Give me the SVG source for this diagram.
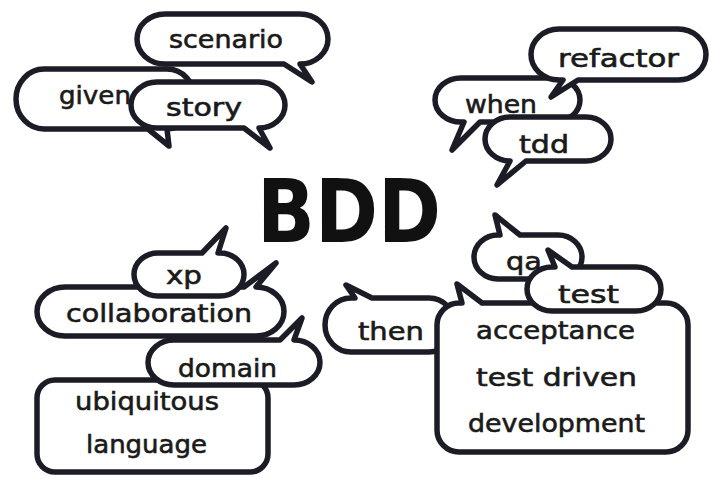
<svg xmlns="http://www.w3.org/2000/svg" width="712" height="479" viewBox="0 0 712 479">
<style>
.b{fill:#fff;stroke:#1c1c26;stroke-width:5.5;stroke-linejoin:round}
.t{font-family:"DejaVu Sans",sans-serif;font-size:25px;fill:#1a1a1a;stroke:#1a1a1a;stroke-width:0.6}
.big{font-family:"DejaVu Sans",sans-serif;font-weight:bold;font-size:88px;fill:#111}
</style>
<rect width="712" height="479" fill="#fff"/>
<g id="connectors"/>
<g id="bdd"><text class="big" x="257" y="242" textLength="184" lengthAdjust="spacingAndGlyphs">BDD</text></g>

<g id="scenario"><path class="b" d="M165,14 H300 A28 25 0 0 1 300,64 L312,82 L284,64 H165 A28 25 0 0 1 165,14 Z"/>
<text class="t" x="169" y="48" textLength="114" lengthAdjust="spacingAndGlyphs">scenario</text></g>
<g id="given"><path class="b" d="M44,69 H167 A28 30 0 0 1 167,129 L169,146 L148,129 H44 A28 30 0 0 1 44,69 Z"/>
<text class="t" x="59" y="104" textLength="72" lengthAdjust="spacingAndGlyphs">given</text></g>
<g id="story"><path class="b" d="M157,82 H259 A26 23 0 0 1 259,128 L270,148 L244,128 H157 A26 23 0 0 1 157,82 Z"/>
<text class="t" x="166" y="116" textLength="76" lengthAdjust="spacingAndGlyphs">story</text></g>

<g id="when"><path class="b" d="M461,78 H554 A26 22 0 0 1 554,122 H480 L452,150 L464,122 H461 A26 22 0 0 1 461,78 Z"/>
<text class="t" x="465" y="113" textLength="72" lengthAdjust="spacingAndGlyphs">when</text></g>
<g id="refactor"><path class="b" d="M559,29 H678 A28 25.5 0 0 1 678,80 H578 L551,97 L563,80 H559 A28 25.5 0 0 1 559,29 Z"/>
<text class="t" x="558" y="67" textLength="121" lengthAdjust="spacingAndGlyphs">refactor</text></g>
<g id="tdd"><path class="b" d="M510,117 H586 A25 22 0 0 1 586,161 H526 L497,185 L510,161 A25 22 0 0 1 510,117 Z"/>
<text class="t" x="519" y="153" textLength="50" lengthAdjust="spacingAndGlyphs">tdd</text></g>

<g id="collaboration"><path class="b" d="M65,287 H244 L276,263 L256,287 A28 24.5 0 0 1 256,336 H65 A28 24.5 0 0 1 65,287 Z"/>
<text class="t" x="66" y="322" textLength="186" lengthAdjust="spacingAndGlyphs">collaboration</text></g>
<g id="xp"><path class="b" d="M158,253 H202 L226,228 L218,253 H220 A24 21.5 0 0 1 220,296 H158 A24 21.5 0 0 1 158,253 Z"/>
<text class="t" x="166" y="284" textLength="36" lengthAdjust="spacingAndGlyphs">xp</text></g>
<g id="ubiquitous-language"><rect class="b" x="37" y="380" width="231" height="92" rx="18"/>
<text class="t" x="75" y="410" textLength="144" lengthAdjust="spacingAndGlyphs">ubiquitous</text>
<text class="t" x="86" y="453" textLength="121" lengthAdjust="spacingAndGlyphs">language</text></g>
<g id="domain"><path class="b" d="M174,340 H280 L302,318 L294,340 A26 22.5 0 0 1 294,385 H174 A26 22.5 0 0 1 174,340 Z"/>
<text class="t" x="178" y="377" textLength="99" lengthAdjust="spacingAndGlyphs">domain</text></g>

<g id="then"><path class="b" d="M351,298 H355 L346,285 L372,298 H429 A26 27 0 0 1 429,352 H351 A26 27 0 0 1 351,298 Z"/>
<text class="t" x="358" y="340" textLength="66" lengthAdjust="spacingAndGlyphs">then</text></g>
<g id="atdd"><path class="b" d="M459,303 H462 L457,284 L482,303 H666 A22 22 0 0 1 688,325 V430 A22 22 0 0 1 666,452 H459 A22 22 0 0 1 437,430 V325 A22 22 0 0 1 459,303 Z"/>
<text class="t" x="476" y="339" textLength="159" lengthAdjust="spacingAndGlyphs">acceptance</text>
<text class="t" x="476" y="386" textLength="161" lengthAdjust="spacingAndGlyphs">test driven</text>
<text class="t" x="468" y="432" textLength="177" lengthAdjust="spacingAndGlyphs">development</text></g>
<g id="qa"><path class="b" d="M498,235 H500 L495,215 L520,235 H558 A24 22 0 0 1 558,279 H498 A24 22 0 0 1 498,235 Z"/>
<text class="t" x="506" y="270" textLength="36" lengthAdjust="spacingAndGlyphs">qa</text></g>
<g id="test"><path class="b" d="M552,267 H555 L548,250 L572,267 H636 A25 22 0 0 1 636,311 H552 A25 22 0 0 1 552,267 Z"/>
<text class="t" x="558" y="303" textLength="61" lengthAdjust="spacingAndGlyphs">test</text></g>
</svg>
